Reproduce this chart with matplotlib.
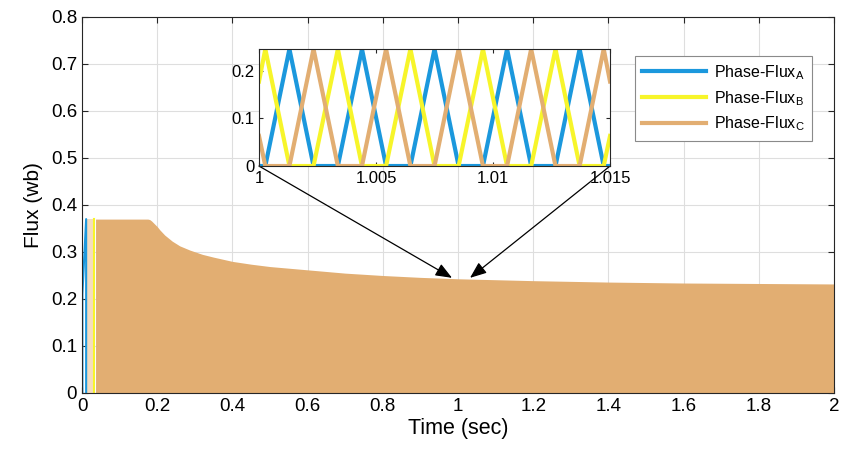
import numpy as np
import matplotlib
matplotlib.use("Agg")
import matplotlib.pyplot as plt
from matplotlib.ticker import FormatStrFormatter

plt.rcParams['font.family'] = ['Liberation Sans', 'DejaVu Sans']
plt.rcParams['mathtext.fontset'] = 'custom'
plt.rcParams['mathtext.rm'] = 'Liberation Sans'

# colours (MATLAB-ish)
c_a = '#1B98DD'
c_b = '#F7F52A'
c_c = '#E2AE72'

# envelope of the phase flux
env_t = [0.036, 0.175, 0.18, 0.185, 0.19, 0.2, 0.207, 0.22, 0.24, 0.26, 0.287, 0.32, 0.35,
         0.4, 0.45, 0.5, 0.6, 0.7, 0.8, 0.9, 1.0, 1.2, 1.4, 1.6, 1.8, 2.0]
env_v = [0.37, 0.37, 0.369, 0.366, 0.362, 0.354, 0.347, 0.336, 0.323, 0.313, 0.304, 0.295, 0.289,
         0.28, 0.274, 0.269, 0.262, 0.255, 0.25, 0.246, 0.243, 0.239, 0.236, 0.234, 0.233, 0.232]

# start-up transient
blue_start_t = [0.001, 0.001, 0.011, 0.011]
blue_start_v = [0.0, 0.21, 0.37, 0.0]
pale_t = [0.014, 0.032]
pale_v = [0.37, 0.37]
yel_start_t = [0.033, 0.033]
yel_start_v = [0.0, 0.37]

# zoomed window 1 .. 1.015 s
zoom_t = [1.0, 1.00027, 1.0013, 1.00233, 1.00337, 1.0044, 1.00543, 1.00647, 1.0075,
          1.00853, 1.00957, 1.0106, 1.01163, 1.01267, 1.0137, 1.01473, 1.015]
flux_a = [0, 0, 0.245, 0, 0, 0.245, 0, 0, 0.245, 0, 0, 0.245, 0, 0, 0.245, 0, 0]
flux_b = [0.177, 0.245, 0, 0, 0.245, 0, 0, 0.245, 0, 0, 0.245, 0, 0, 0.245, 0, 0, 0.063]
flux_c = [0.063, 0, 0, 0.245, 0, 0, 0.245, 0, 0, 0.245, 0, 0, 0.245, 0, 0, 0.245, 0.177]

fig = plt.figure(figsize=(8.42, 4.59), dpi=100)
ax = fig.add_axes([0.0974, 0.1438, 0.8931, 0.8192])

ax.fill_between(env_t, 0, env_v, color=c_c, lw=0)
ax.fill_between(pale_t, 0, pale_v, color='#F4DCBF', lw=0)
ax.plot(blue_start_t, blue_start_v, color=c_a, lw=1.5)
ax.plot(yel_start_t, yel_start_v, color=c_b, lw=1.5)

ax.set_xlim(0, 2)
ax.set_ylim(0, 0.8)
ax.set_xticks(np.arange(0, 2.01, 0.2))
ax.set_yticks(np.arange(0, 0.81, 0.1))
ax.xaxis.set_major_formatter(FormatStrFormatter('%g'))
ax.yaxis.set_major_formatter(FormatStrFormatter('%g'))
ax.set_axisbelow(True)
ax.grid(True, color='#DEDEDE', lw=0.8)
ax.tick_params(direction='in', top=True, right=True, labelsize=13.5, length=4, color='#262626')
for s in ax.spines.values():
    s.set_color('#262626')
    s.set_linewidth(0.8)
ax.set_xlabel('Time (sec)', fontsize=15.5, labelpad=2)
ax.set_ylabel('Flux (wb)', fontsize=15, labelpad=6)

# inset
axins = fig.add_axes([0.3076, 0.6383, 0.4169, 0.2549])
la, = axins.plot(zoom_t, flux_a, color=c_a, lw=3, label=r'Phase-Flux$_\mathregular{A}$')
lb, = axins.plot(zoom_t, flux_b, color=c_b, lw=3, label=r'Phase-Flux$_\mathregular{B}$')
lc, = axins.plot(zoom_t, flux_c, color=c_c, lw=3, label=r'Phase-Flux$_\mathregular{C}$')
axins.set_xlim(1, 1.015)
axins.set_ylim(0, 0.245)
axins.set_xticks([1, 1.005, 1.01, 1.015])
axins.set_yticks([0, 0.1, 0.2])
axins.xaxis.set_major_formatter(FormatStrFormatter('%g'))
axins.yaxis.set_major_formatter(FormatStrFormatter('%g'))
axins.tick_params(direction='in', top=True, right=True, labelsize=12, length=3, color='#262626')
for s in axins.spines.values():
    s.set_color('#262626')
    s.set_linewidth(0.8)

# arrows from the inset corners
arrow = dict(arrowstyle='-|>,head_length=1.0,head_width=0.4', color='black', lw=0.9, shrinkA=0, shrinkB=0)
ax.annotate('', xy=(0.984, 0.245), xytext=(0, 0), textcoords=axins.transAxes, arrowprops=arrow)
ax.annotate('', xy=(1.032, 0.245), xytext=(1, 0), textcoords=axins.transAxes, arrowprops=arrow)

leg = ax.legend(handles=[la, lb, lc], loc='upper right', bbox_to_anchor=(0.981, 0.918),
                fontsize=11.5, fancybox=False, framealpha=1, edgecolor='#8A8A8A',
                handlelength=4.0, borderpad=0.45, labelspacing=0.45, handletextpad=0.5)
leg.get_frame().set_linewidth(0.8)

fig.savefig('out.png', dpi=100)
